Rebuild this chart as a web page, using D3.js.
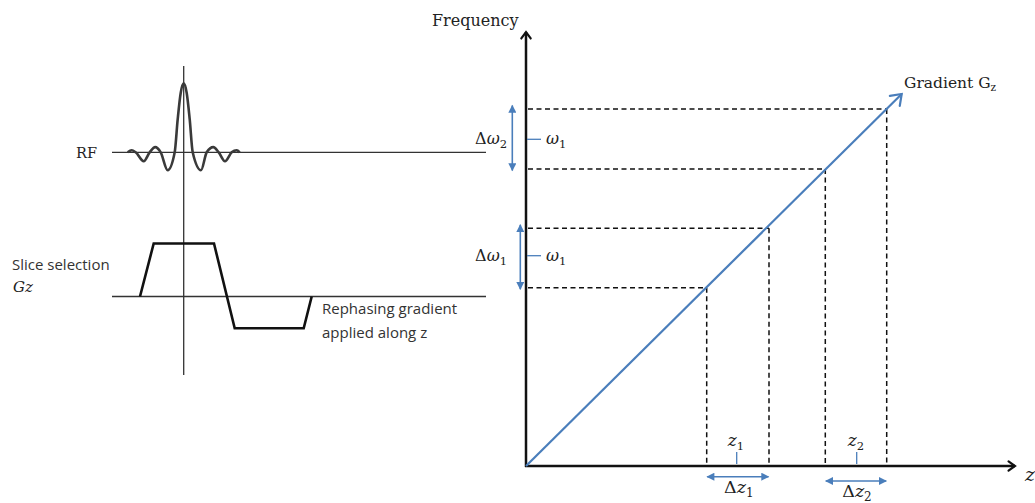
<!DOCTYPE html>
<html>
<head>
<meta charset="utf-8">
<script src="https://cdn.jsdelivr.net/npm/d3@7"></script>
<style>
  html, body { margin: 0; padding: 0; background: #fff; }
  svg { display: block; }
  .serif { font-family: "DejaVu Serif", "Liberation Serif", serif; fill: #222; }
  .sans { font-family: "Open Sans", "Noto Sans", sans-serif; fill: #333; }
</style>
</head>
<body>
<svg id="chart" width="1035" height="503"></svg>
<script>
// ---- Pulse-sequence panel (left) ----
// RF pulse: sinc-shaped envelope, time offset from pulse centre and relative amplitude
const rfTime = [-5.6, -5.2, -4.8, -4.0, -3.4, -2.85, -2.3, -1.6, -0.9, -0.6, -0.3, 0, 0.3, 0.6, 0.9, 1.73, 2.3, 2.96, 3.5, 4.13, 4.8, 5.3, 5.6];
const rfAmp  = [0, 0.03, 0, -0.13, 0, 0.075, 0, -0.26, 0, 0.48, 0.86, 1, 0.86, 0.48, 0, -0.26, 0, 0.075, 0, -0.13, 0, 0.03, 0];
// Slice-selection gradient followed by the rephasing lobe
const gzTime = [-4.37, -3.0, 3.03, 5.1, 12.0, 12.8];
const gzAmp  = [0, 1, 1, -0.6, -0.6, 0];
const baseTimeRange = [-7.17, 30.23];

// ---- Frequency vs position panel (right) ----
const gradientEnd = [3.757, 3.72];          // [z, frequency] at the arrow tip of Gz
const bandNames = ["1", "2"];
const bandZLow  = [1.807, 2.993];
const bandZHigh = [2.43, 3.607];
const bandFLow  = [1.783, 2.97];
const bandFHigh = [2.377, 3.57];
const bandFCenter = [2.103, 3.267];
const bandZCenter = [2.107, 3.307];

const svg = d3.select("#chart");
const BLUE = "#4a7ebb";

// markers
const defs = svg.append("defs");
defs.append("marker")
  .attr("id", "blueHead").attr("viewBox", "0 0 10 10")
  .attr("refX", 9).attr("refY", 5)
  .attr("markerWidth", 9).attr("markerHeight", 8)
  .attr("markerUnits", "userSpaceOnUse")
  .attr("orient", "auto-start-reverse")
  .append("path").attr("d", "M0,0 L10,5 L0,10 Z").attr("fill", BLUE);

function chevron(x, y, angle, size, color, width) {
  // open arrowhead with its tip at (x, y), pointing along angle (radians)
  const a1 = angle + Math.PI * 0.8, a2 = angle - Math.PI * 0.8;
  svg.append("path")
    .attr("d", `M${x + size * Math.cos(a1)},${y + size * Math.sin(a1)} L${x},${y} L${x + size * Math.cos(a2)},${y + size * Math.sin(a2)}`)
    .attr("fill", "none").attr("stroke", color).attr("stroke-width", width)
    .attr("stroke-linejoin", "miter").attr("stroke-linecap", "round");
}

// ---------- left panel ----------
const tScale = d3.scaleLinear().domain(baseTimeRange).range([112, 486]);
const rfY = d3.scaleLinear().domain([0, 1]).range([152.3, 83.3]);
const gzY = d3.scaleLinear().domain([0, 1]).range([296.5, 243.5]);

// baselines
svg.append("line").attr("x1", tScale(baseTimeRange[0])).attr("x2", tScale(baseTimeRange[1]))
  .attr("y1", rfY(0)).attr("y2", rfY(0)).attr("stroke", "#333").attr("stroke-width", 1.3);
svg.append("line").attr("x1", tScale(baseTimeRange[0])).attr("x2", tScale(baseTimeRange[1]))
  .attr("y1", gzY(0)).attr("y2", gzY(0)).attr("stroke", "#333").attr("stroke-width", 1.3);
// time-origin line
svg.append("line").attr("x1", tScale(0)).attr("x2", tScale(0))
  .attr("y1", rfY(1.25)).attr("y2", 375).attr("stroke", "#333").attr("stroke-width", 1.3);

// RF sinc pulse
const rfLine = d3.line().x(d => tScale(d[0])).y(d => rfY(d[1])).curve(d3.curveMonotoneX);
svg.append("path").datum(rfTime.map((t, i) => [t, rfAmp[i]]))
  .attr("d", rfLine).attr("fill", "none").attr("stroke", "#3a3a3a").attr("stroke-width", 2.6);

// gradient waveform
const gzLine = d3.line().x(d => tScale(d[0])).y(d => gzY(d[1]));
svg.append("path").datum(gzTime.map((t, i) => [t, gzAmp[i]]))
  .attr("d", gzLine).attr("fill", "none").attr("stroke", "#111").attr("stroke-width", 2.6)
  .attr("stroke-linejoin", "miter");

// left labels
svg.append("text").attr("class", "serif").attr("x", 97).attr("y", 158).attr("font-size", 14.5)
  .attr("text-anchor", "end").text("RF");
svg.append("text").attr("class", "sans").attr("x", 12).attr("y", 270).attr("font-size", 15).text("Slice selection");
svg.append("text").attr("class", "serif").attr("x", 13).attr("y", 292).attr("font-size", 15)
  .attr("font-style", "italic").text("Gz");
svg.append("text").attr("class", "sans").attr("x", 322).attr("y", 314).attr("font-size", 15).text("Rephasing gradient");
svg.append("text").attr("class", "sans").attr("x", 322).attr("y", 338).attr("font-size", 15).text("applied along z");

// ---------- right panel ----------
const zScale = d3.scaleLinear().domain([0, 4.9]).range([526, 1016]);
const fScale = d3.scaleLinear().domain([0, 4.33]).range([466, 33]);
const x0 = zScale(0), y0 = fScale(0);

// dashed projections from the gradient line onto both axes
const dash = svg.append("g").attr("stroke", "#111").attr("stroke-width", 1.5)
  .attr("stroke-dasharray", "5,3.5").attr("fill", "none");
bandNames.forEach((n, i) => {
  [[bandZLow[i], bandFLow[i]], [bandZHigh[i], bandFHigh[i]]].forEach(([z, f]) => {
    dash.append("line").attr("x1", x0 + 2).attr("x2", zScale(z)).attr("y1", fScale(f)).attr("y2", fScale(f));
    dash.append("line").attr("x1", zScale(z)).attr("x2", zScale(z)).attr("y1", fScale(f)).attr("y2", y0 - 2);
  });
});

// axes
svg.append("line").attr("x1", x0).attr("x2", x0).attr("y1", y0 + 1).attr("y2", fScale(4.34))
  .attr("stroke", "#111").attr("stroke-width", 2.5);
svg.append("line").attr("x1", x0 - 1).attr("x2", zScale(4.89)).attr("y1", y0).attr("y2", y0)
  .attr("stroke", "#111").attr("stroke-width", 2.5);
chevron(x0, fScale(4.34), -Math.PI / 2, 8, "#111", 2.2);
chevron(zScale(4.89), y0, 0, 8, "#111", 2.2);

// gradient line
svg.append("line").attr("x1", x0).attr("y1", y0)
  .attr("x2", zScale(gradientEnd[0])).attr("y2", fScale(gradientEnd[1]))
  .attr("stroke", BLUE).attr("stroke-width", 2.2);
chevron(zScale(gradientEnd[0]), fScale(gradientEnd[1]),
  Math.atan2(fScale(gradientEnd[1]) - y0, zScale(gradientEnd[0]) - x0), 12, BLUE, 2.2);

// bandwidth arrows and centre ticks
const fArrowX = [x0 - 5.7, x0 - 13.7];
const zArrowY = [y0 + 10.7, y0 + 15];
const dwLabelRight = [507, 507];
bandNames.forEach((n, i) => {
  svg.append("line").attr("x1", fArrowX[i]).attr("x2", fArrowX[i])
    .attr("y1", fScale(bandFLow[i]) + 1.5).attr("y2", fScale(bandFHigh[i]) - 3.5)
    .attr("stroke", BLUE).attr("stroke-width", 1.6)
    .attr("marker-start", "url(#blueHead)").attr("marker-end", "url(#blueHead)");
  svg.append("line").attr("x1", zScale(bandZLow[i]) + 0.5).attr("x2", zScale(bandZHigh[i]) - 0.5)
    .attr("y1", zArrowY[i]).attr("y2", zArrowY[i])
    .attr("stroke", BLUE).attr("stroke-width", 1.6)
    .attr("marker-start", "url(#blueHead)").attr("marker-end", "url(#blueHead)");
  // centre frequency tick
  svg.append("line").attr("x1", x0 + 1).attr("x2", x0 + 15)
    .attr("y1", fScale(bandFCenter[i])).attr("y2", fScale(bandFCenter[i]))
    .attr("stroke", BLUE).attr("stroke-width", 1.3);
  // centre position tick
  svg.append("line").attr("x1", zScale(bandZCenter[i])).attr("x2", zScale(bandZCenter[i]))
    .attr("y1", y0 - 14).attr("y2", y0 - 2)
    .attr("stroke", BLUE).attr("stroke-width", 1.3);

  // Δω label
  const dw = svg.append("text").attr("class", "serif").attr("font-size", 16)
    .attr("text-anchor", "end").attr("x", dwLabelRight[i])
    .attr("y", fScale(bandFCenter[i]) + 5);
  dw.append("tspan").text("Δ");
  dw.append("tspan").attr("font-style", "italic").text("ω");
  dw.append("tspan").attr("font-size", 11.5).attr("dy", 4).text(n);

  // ω1 centre label
  const w = svg.append("text").attr("class", "serif").attr("font-size", 16)
    .attr("x", x0 + 20).attr("y", fScale(bandFCenter[i]) + 5);
  w.append("tspan").attr("font-style", "italic").text("ω");
  w.append("tspan").attr("font-size", 11.5).attr("dy", 4).text("1");

  // z centre label
  const zc = svg.append("text").attr("class", "serif").attr("font-size", 17)
    .attr("x", zScale(bandZCenter[i]) - 9).attr("y", y0 - 20);
  zc.append("tspan").attr("font-style", "italic").text("z");
  zc.append("tspan").attr("font-size", 11.5).attr("dy", 4).text(n);

  // Δz label
  const dz = svg.append("text").attr("class", "serif").attr("font-size", 17.5)
    .attr("text-anchor", "middle")
    .attr("x", (zScale(bandZLow[i]) + zScale(bandZHigh[i])) / 2 + 1).attr("y", zArrowY[i] + 16);
  dz.append("tspan").text("Δ");
  dz.append("tspan").attr("font-style", "italic").text("z");
  dz.append("tspan").attr("font-size", 12).attr("dy", 4).text(n);
});

// axis titles
svg.append("text").attr("class", "serif").attr("x", 432).attr("y", 26).attr("font-size", 16).text("Frequency");
svg.append("text").attr("class", "serif").attr("x", 1025).attr("y", 481).attr("font-size", 19)
  .attr("font-style", "italic").text("z");
const gl = svg.append("text").attr("class", "serif").attr("x", 904).attr("y", 88).attr("font-size", 15.5);
gl.append("tspan").text("Gradient G");
gl.append("tspan").attr("font-size", 10.5).attr("dy", 3).text("z");
</script>
</body>
</html>
